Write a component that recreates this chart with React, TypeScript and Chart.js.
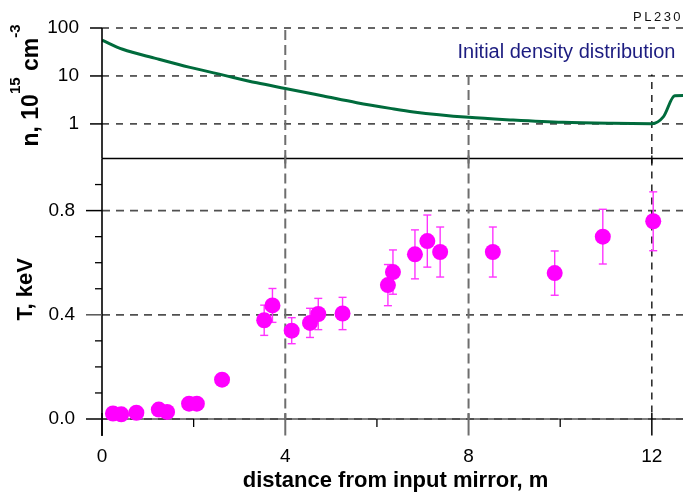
import React, { useEffect, useRef } from "react";
import { Chart, registerables } from "chart.js";

Chart.register(...registerables);

const W = 683;
const H = 494;
const FONT = "'Liberation Sans', Arial, Helvetica, sans-serif";

// ---- data ----
const densityX = [0, 0.45, 1.19, 1.92, 2.65, 3.38, 4.0, 4.83, 5.56, 6.29, 6.8, 8.0, 8.97, 10.06, 11.15, 12.0, 12.25, 12.5, 12.7];
const densityVal = [56, 36, 23, 15.1, 10.4, 7.2, 5.5, 3.82, 2.77, 2.11, 1.78, 1.37, 1.205, 1.078, 1.027, 1.01, 1.4, 3.85, 3.9];

const tempX = [0.24, 0.42, 0.75, 1.24, 1.42, 1.9, 2.07, 2.62, 3.54, 3.72, 4.14, 4.54, 4.72, 5.25, 6.24, 6.35, 6.83, 7.1, 7.38, 8.53, 9.88, 10.93, 12.03];
const tempVal = [0.021, 0.018, 0.024, 0.036, 0.027, 0.059, 0.059, 0.151, 0.379, 0.436, 0.339, 0.369, 0.403, 0.405, 0.514, 0.564, 0.632, 0.683, 0.641, 0.641, 0.56, 0.7, 0.759];
const tempErr = [0, 0, 0, 0, 0, 0, 0, 0, 0.058, 0.065, 0.05, 0.056, 0.06, 0.062, 0.079, 0.085, 0.094, 0.1, 0.096, 0.096, 0.085, 0.105, 0.113];

const xMajorTicks = [0, 4, 8, 12];
const xMinorTicks = [2, 6, 10];
const nTicks = [1, 10, 100];
const tMajorTicks = [0, 0.4, 0.8];
const tMinorTicks = [0.1, 0.2, 0.3, 0.5, 0.6, 0.7, 0.9];

const X_MIN = 0;
const X_MAX = 12.68;
const N_MIN = 0.19;
const N_MAX = 100;
const T_MIN = 0;
const T_MAX = 1.0;

const panelTitle = "Initial density distribution";
const plateId = "PL2304";
const xTitle = "distance from input mirror, m";
const tTitle = "T, keV";

// ---- helpers ----
function seg(ctx: CanvasRenderingContext2D, x1: number, y1: number, x2: number, y2: number, color: string, width: number, dash: number[] = []) {
  ctx.save();
  ctx.beginPath();
  ctx.strokeStyle = color;
  ctx.lineWidth = width;
  ctx.setLineDash(dash);
  ctx.moveTo(x1, y1);
  ctx.lineTo(x2, y2);
  ctx.stroke();
  ctx.restore();
}

function vStyle(v: number) {
  return v === 12
    ? { color: "#000", width: 1.3, dash: [7, 6] }
    : { color: "#6e6e6e", width: 2, dash: [10, 5] };
}

const noPad = (s: any) => {
  s.paddingTop = 0;
  s.paddingBottom = 0;
  s.paddingLeft = 0;
  s.paddingRight = 0;
};

const topPlugin = {
  id: "topDecor",
  beforeDatasetsDraw(chart: any) {
    const { ctx, chartArea: a, scales } = chart;
    const x = scales.x;
    const y = scales.y;
    nTicks.forEach((v) => {
      const py = y.getPixelForValue(v);
      seg(ctx, a.left, py, a.right, py, "#000", 1.2, [7, 7]);
    });
    xMajorTicks.filter((v) => v > 0).forEach((v) => {
      const px = x.getPixelForValue(v);
      const s = vStyle(v);
      seg(ctx, px, a.top + 2, px, a.bottom, s.color, s.width, s.dash);
    });
    // label box
    const yTop = y.getPixelForValue(100);
    const y10 = y.getPixelForValue(10);
    ctx.save();
    ctx.fillStyle = "#fff";
    ctx.fillRect(452, yTop + 1.5, W - 452, y10 - yTop - 3);
    ctx.font = `20px ${FONT}`;
    ctx.fillStyle = "#1c1c80";
    ctx.textAlign = "left";
    ctx.textBaseline = "alphabetic";
    ctx.fillText(panelTitle, 457.5, 58.3);
    ctx.restore();
  },
  afterDraw(chart: any) {
    const { ctx, chartArea: a, scales } = chart;
    const x = scales.x;
    const y = scales.y;
    seg(ctx, a.left, a.top, a.left, a.bottom, "#000", 1.6);
    seg(ctx, a.left, a.bottom, a.right, a.bottom, "#000", 1.5);
    nTicks.forEach((v) => {
      const py = y.getPixelForValue(v);
      seg(ctx, a.left - 12, py, a.left, py, "#000", 1.5);
    });
    xMajorTicks.filter((v) => v > 0).forEach((v) => {
      const px = x.getPixelForValue(v);
      const s = vStyle(v);
      seg(ctx, px, a.bottom - 3, px, a.bottom + 5, s.color, s.width);
    });
    // rotated title with superscripts
    ctx.save();
    ctx.fillStyle = "#000";
    ctx.textBaseline = "alphabetic";
    ctx.textAlign = "left";
    ctx.translate(38, 146.5);
    ctx.rotate(-Math.PI / 2);
    let w = 0;
    const big = `bold 23px ${FONT}`;
    const small = `bold 15px ${FONT}`;
    const parts: [string, string, number][] = [
      ["n, 10", big, 0],
      ["15", small, -18],
      [" cm", big, 0],
      ["-3", small, -18],
    ];
    parts.forEach(([t, f, dy]) => {
      ctx.font = f;
      ctx.fillText(t, w, dy);
      w += ctx.measureText(t).width;
    });
    ctx.restore();
    // plate id
    ctx.save();
    ctx.font = `13px ${FONT}`;
    (ctx as any).letterSpacing = "2.5px";
    ctx.fillStyle = "#111";
    ctx.textAlign = "left";
    ctx.fillText(plateId, 633, 20.5);
    ctx.restore();
  },
};

const bottomPlugin = {
  id: "bottomDecor",
  beforeDatasetsDraw(chart: any) {
    const { ctx, chartArea: a, scales } = chart;
    const x = scales.x;
    const y = scales.y;
    seg(ctx, a.left, a.bottom, a.right, a.bottom, "#000", 1);
    tMajorTicks.forEach((v) => {
      const py = y.getPixelForValue(v);
      seg(ctx, a.left, py, a.right, py, "#505050", 1.8, [8, 6]);
    });
    xMajorTicks.filter((v) => v > 0).forEach((v) => {
      const px = x.getPixelForValue(v);
      const s = vStyle(v);
      seg(ctx, px, a.top, px, a.bottom, s.color, s.width, s.dash);
    });
    // error bars
    tempX.forEach((xv, i) => {
      const e = tempErr[i];
      if (!e) return;
      const px = x.getPixelForValue(xv);
      const pLo = y.getPixelForValue(tempVal[i] - e);
      const pHi = y.getPixelForValue(tempVal[i] + e);
      seg(ctx, px, pLo, px, pHi, "#ff33ff", 1.4);
      seg(ctx, px - 4, pLo, px + 4, pLo, "#ff33ff", 1.4);
      seg(ctx, px - 4, pHi, px + 4, pHi, "#ff33ff", 1.4);
    });
  },
  afterDraw(chart: any) {
    const { ctx, chartArea: a, scales } = chart;
    const x = scales.x;
    const y = scales.y;
    seg(ctx, a.left, a.top, a.left, a.bottom + 17, "#000", 1.6);
    xMajorTicks.forEach((v) => {
      const px = x.getPixelForValue(v);
      const s = v === 0 || v === 12 ? { color: "#000", width: 1.5 } : { color: "#6e6e6e", width: 2 };
      seg(ctx, px, a.bottom - 6, px, a.bottom + 16.5, s.color, s.width);
    });
    xMinorTicks.forEach((v) => {
      const px = x.getPixelForValue(v);
      seg(ctx, px, a.bottom, px, a.bottom + 8, "#000", 1.3);
    });
    tMajorTicks.forEach((v) => {
      const py = y.getPixelForValue(v);
      seg(ctx, a.left - 16, py, a.left, py, v === 0.4 ? "#555" : "#000", 1.5);
    });
    tMinorTicks.forEach((v) => {
      const py = y.getPixelForValue(v);
      seg(ctx, a.left - 7, py, a.left, py, "#000", 1.3);
    });
    ctx.save();
    ctx.fillStyle = "#000";
    ctx.font = `bold 22px ${FONT}`;
    ctx.textAlign = "center";
    ctx.textBaseline = "alphabetic";
    ctx.fillText(xTitle, (a.left + a.right) / 2 + 3, 487);
    ctx.translate(32, 320.5);
    ctx.rotate(-Math.PI / 2);
    ctx.textAlign = "left";
    ctx.fillText(tTitle, 0, 0);
    ctx.restore();
  },
};

export default function App() {
  const topRef = useRef<HTMLCanvasElement>(null);
  const botRef = useRef<HTMLCanvasElement>(null);

  useEffect(() => {
    const bottom = new Chart(botRef.current as HTMLCanvasElement, {
      type: "scatter",
      data: {
        datasets: [
          {
            data: tempX.map((xv, i) => ({ x: xv, y: tempVal[i] })),
            pointRadius: 8,
            pointHoverRadius: 8,
            backgroundColor: "#ff00ff",
            borderWidth: 0,
            clip: false as any,
          },
        ],
      },
      options: {
        animation: false,
        responsive: false,
        events: [],
        layout: { autoPadding: false, padding: { top: 158.5, left: 0, right: 0, bottom: 0 } },
        plugins: { legend: { display: false }, tooltip: { enabled: false } },
        scales: {
          x: {
            type: "linear",
            min: X_MIN,
            max: X_MAX,
            afterBuildTicks: (s: any) => {
              s.ticks = xMajorTicks.map((v) => ({ value: v }));
            },
            afterFit: (s: any) => {
              s.height = 75;
              noPad(s);
            },
            grid: { display: false, drawTicks: false },
            border: { display: false },
            ticks: {
              padding: 26,
              color: "#000",
              font: { family: FONT, size: 19 },
              maxRotation: 0,
              callback: (v: any) => String(v),
            },
          },
          y: {
            type: "linear",
            min: T_MIN,
            max: T_MAX,
            afterBuildTicks: (s: any) => {
              s.ticks = tMajorTicks.map((v) => ({ value: v }));
            },
            afterFit: (s: any) => {
              s.width = 102;
              noPad(s);
            },
            grid: { display: false, drawTicks: false },
            border: { display: false },
            ticks: {
              padding: 27,
              color: "#000",
              font: { family: FONT, size: 19 },
              callback: (v: any) => Number(v).toFixed(1),
            },
          },
        },
      },
      plugins: [bottomPlugin],
    } as any);

    const top = new Chart(topRef.current as HTMLCanvasElement, {
      type: "line",
      data: {
        datasets: [
          {
            data: densityX.map((xv, i) => ({ x: xv, y: densityVal[i] })),
            borderColor: "#006b3c",
            borderWidth: 3,
            pointRadius: 0,
            cubicInterpolationMode: "monotone",
            fill: false,
          },
        ],
      },
      options: {
        animation: false,
        responsive: false,
        events: [],
        layout: { autoPadding: false, padding: { top: 28, left: 0, right: 0, bottom: 335.5 } },
        plugins: { legend: { display: false }, tooltip: { enabled: false } },
        scales: {
          x: {
            type: "linear",
            min: X_MIN,
            max: X_MAX,
            display: false,
          },
          y: {
            type: "logarithmic",
            min: N_MIN,
            max: N_MAX,
            afterBuildTicks: (s: any) => {
              s.ticks = nTicks.map((v) => ({ value: v }));
            },
            afterFit: (s: any) => {
              s.width = 102;
              noPad(s);
            },
            grid: { display: false, drawTicks: false },
            border: { display: false },
            ticks: {
              padding: 23,
              color: "#000",
              font: { family: FONT, size: 19 },
              callback: (v: any) => String(v),
            },
          },
        },
      },
      plugins: [topPlugin],
    } as any);

    return () => {
      top.destroy();
      bottom.destroy();
    };
  }, []);

  return (
    <div style={{ position: "absolute", left: 0, top: 0, width: W, height: H, background: "#fff", overflow: "hidden" }}>
      <canvas ref={botRef} width={W} height={H} style={{ position: "absolute", left: 0, top: 0 }} />
      <canvas ref={topRef} width={W} height={H} style={{ position: "absolute", left: 0, top: 0 }} />
    </div>
  );
}
